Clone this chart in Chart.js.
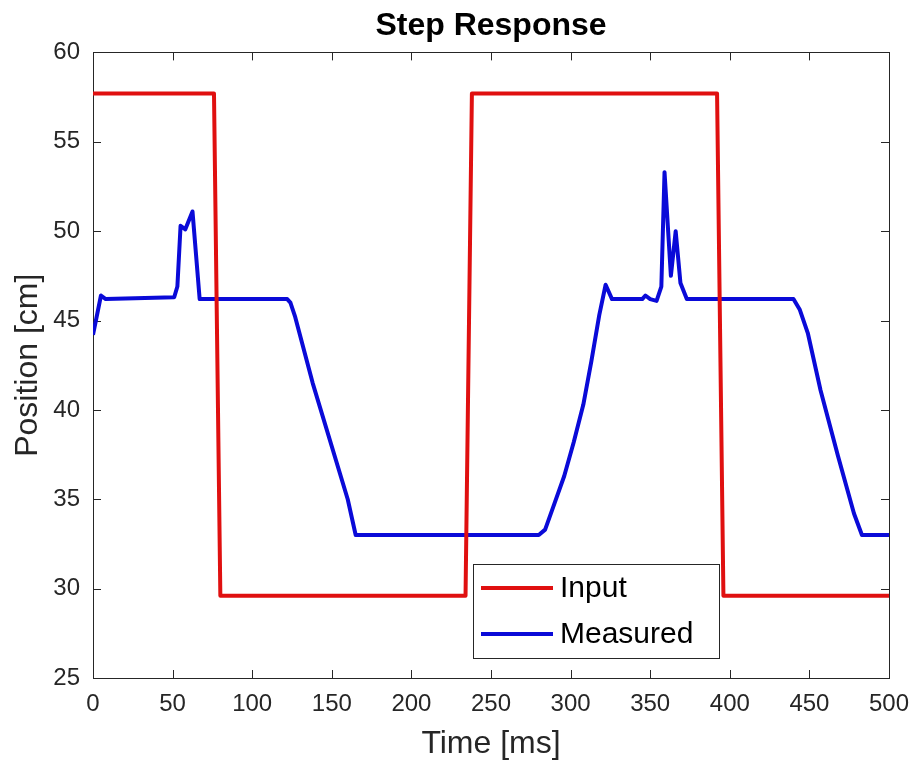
<!DOCTYPE html>
<html lang="en">
  <head>
    <meta charset="UTF-8" />
    <title>Step Response</title>
    <script src="https://cdn.jsdelivr.net/npm/chart.js@4/dist/chart.umd.min.js"></script>
    <style>
      body { margin: 0; background: #fff; }
      #wrap { width: 914px; height: 763px; }
    </style>
  </head>
  <body>
    <div id="wrap"><canvas id="stepChart"></canvas></div>

    <script>
      // Set-point sent to the controller (square wave)
      const inputTime = [0, 76, 80, 234, 238, 392, 396, 500];
      const inputPos = [57.7, 57.7, 29.6, 29.6, 57.7, 57.7, 29.6, 29.6];

      // Position read back from the sensor
      const measuredTime = [
        0, 5, 8, 51, 53, 55, 58, 62.5, 67, 122, 124, 127, 138, 160, 165,
        280, 284, 290, 296, 302, 308, 313, 318, 322, 326, 345, 347, 350,
        354, 357, 359, 363, 366, 369, 373, 440, 444, 449, 457, 468, 478,
        483, 500,
      ];
      const measuredPos = [
        44.2, 46.4, 46.2, 46.3, 46.9, 50.3, 50.1, 51.1, 46.2, 46.2, 46.0,
        45.2, 41.5, 35.0, 33.0, 33.0, 33.3, 34.8, 36.3, 38.2, 40.3, 42.7,
        45.3, 47.0, 46.2, 46.2, 46.4, 46.2, 46.1, 46.9, 53.3, 47.5, 50.0,
        47.1, 46.2, 46.2, 45.6, 44.3, 41.1, 37.4, 34.2, 33.0, 33.0,
      ];

      const xTickValues = [0, 50, 100, 150, 200, 250, 300, 350, 400, 450, 500];
      const yTickValues = [25, 30, 35, 40, 45, 50, 55, 60];

      const FONT = "'Liberation Sans', Arial, Helvetica, sans-serif";
      const AXIS_COLOR = "#262626";

      const toPoints = (xs, ys) => xs.map((x, i) => ({ x: x, y: ys[i] }));

      // MATLAB-style box: frame around the axes with inward tick marks on all sides
      const axesBox = {
        id: "axesBox",
        beforeDatasetsDraw(chart) {
          const { ctx, chartArea: a, scales } = chart;
          const len = 8;
          ctx.save();
          ctx.strokeStyle = AXIS_COLOR;
          ctx.lineWidth = 1;
          ctx.beginPath();
          scales.x.ticks.forEach((t) => {
            const px = Math.round(scales.x.getPixelForValue(t.value)) + 0.5;
            ctx.moveTo(px, a.bottom);
            ctx.lineTo(px, a.bottom - len);
            ctx.moveTo(px, a.top);
            ctx.lineTo(px, a.top + len);
          });
          scales.y.ticks.forEach((t) => {
            const py = Math.round(scales.y.getPixelForValue(t.value)) + 0.5;
            ctx.moveTo(a.left, py);
            ctx.lineTo(a.left + len, py);
            ctx.moveTo(a.right, py);
            ctx.lineTo(a.right - len, py);
          });
          ctx.stroke();
          ctx.strokeRect(
            Math.round(a.left) + 0.5,
            Math.round(a.top) + 0.5,
            Math.round(a.width),
            Math.round(a.height)
          );
          ctx.restore();
        },
      };

      // Legend box inside the axes, near the bottom middle
      const boxLegend = {
        id: "boxLegend",
        afterDatasetsDraw(chart) {
          const { ctx } = chart;
          const left = 473, top = 564, w = 246, h = 94;
          ctx.save();
          ctx.fillStyle = "#fff";
          ctx.fillRect(left, top, w, h);
          ctx.strokeStyle = AXIS_COLOR;
          ctx.lineWidth = 1;
          ctx.strokeRect(left + 0.5, top + 0.5, w, h);
          ctx.font = "30px " + FONT;
          ctx.textBaseline = "middle";
          ctx.fillStyle = "#000";
          chart.data.datasets.forEach((ds, i) => {
            const yy = top + 24 + i * 46;
            ctx.strokeStyle = ds.borderColor;
            ctx.lineWidth = 4;
            ctx.beginPath();
            ctx.moveTo(left + 8, yy);
            ctx.lineTo(left + 80, yy);
            ctx.stroke();
            ctx.fillText(ds.label, left + 87, yy + 1);
          });
          ctx.restore();
        },
      };

      const ctx = document.getElementById("stepChart").getContext("2d");
      new Chart(ctx, {
        type: "line",
        data: {
          datasets: [
            {
              label: "Input",
              data: toPoints(inputTime, inputPos),
              borderColor: "#e01010",
              borderWidth: 4,
              pointRadius: 0,
              tension: 0,
              borderJoinStyle: "round",
            },
            {
              label: "Measured",
              data: toPoints(measuredTime, measuredPos),
              borderColor: "#0a0ad8",
              borderWidth: 4,
              pointRadius: 0,
              tension: 0,
              borderJoinStyle: "round",
            },
          ],
        },
        options: {
          responsive: true,
          maintainAspectRatio: false,
          animation: false,
          layout: { padding: { top: 0, right: 25, bottom: 0, left: 0 } },
          plugins: {
            legend: { display: false },
            tooltip: { enabled: false },
            title: {
              display: true,
              text: "Step Response",
              fullSize: false,
              color: "#000",
              font: { family: FONT, size: 32, weight: "bold" },
              padding: { top: 7, bottom: 7 },
            },
          },
          scales: {
            x: {
              type: "linear",
              min: 0,
              max: 500,
              afterBuildTicks: (s) => {
                s.ticks = xTickValues.map((v) => ({ value: v }));
              },
              afterFit: (s) => {
                s.height = 85;
                s.paddingLeft = 0;
                s.paddingRight = 0;
              },
              grid: { display: false, drawTicks: false },
              border: { display: false },
              ticks: {
                color: AXIS_COLOR,
                padding: 12,
                maxRotation: 0,
                font: { family: FONT, size: 24 },
              },
              title: {
                display: true,
                text: "Time [ms]",
                color: AXIS_COLOR,
                font: { family: FONT, size: 32 },
                padding: { top: 4, bottom: 0 },
              },
            },
            y: {
              min: 25,
              max: 60,
              afterBuildTicks: (s) => {
                s.ticks = yTickValues.map((v) => ({ value: v }));
              },
              afterFit: (s) => {
                s.width = 93;
              },
              grid: { display: false, drawTicks: false },
              border: { display: false },
              ticks: {
                color: AXIS_COLOR,
                padding: 13,
                font: { family: FONT, size: 24 },
              },
              title: {
                display: true,
                text: "Position [cm]",
                color: AXIS_COLOR,
                font: { family: FONT, size: 32 },
                padding: { top: 9, bottom: 9 },
              },
            },
          },
        },
        plugins: [axesBox, boxLegend],
      });
    </script>
  </body>
</html>
